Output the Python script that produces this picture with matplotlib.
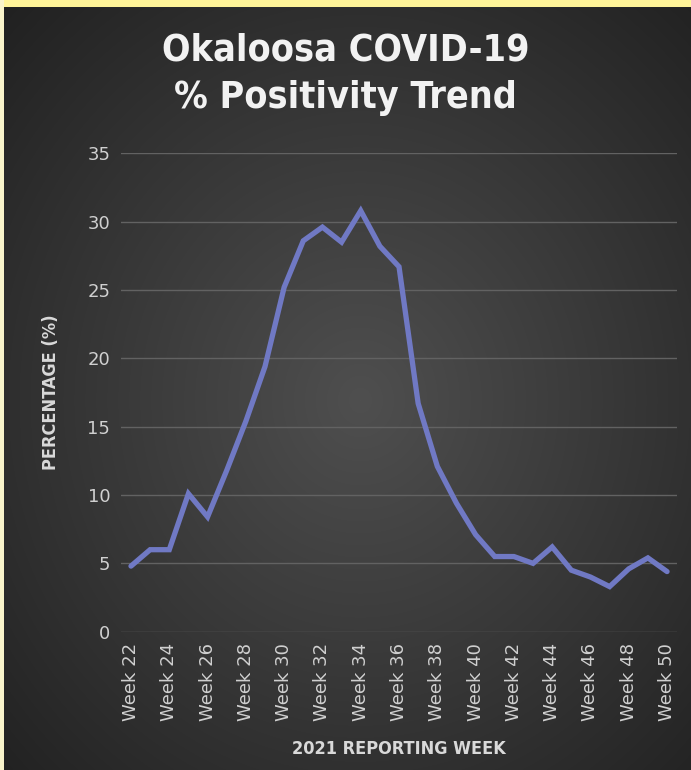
import numpy as np
import matplotlib
matplotlib.use("Agg")
import matplotlib.pyplot as plt

weeks = list(range(22, 51))
positivity = [4.8, 6.0, 6.0, 10.1, 8.4, 11.8, 15.4, 19.4, 25.2, 28.6, 29.6, 28.5,
              30.8, 28.2, 26.7, 16.7, 12.1, 9.4, 7.1, 5.5, 5.5, 5.0, 6.2, 4.5,
              4.0, 3.3, 4.6, 5.4, 4.4]
tick_weeks = list(range(22, 51, 2))
tick_labels = [f"Week {w}" for w in tick_weeks]

W, H = 691, 770
fig = plt.figure(figsize=(W / 100, H / 100), dpi=100)

# radial dark background with the yellow strip on top
bg = fig.add_axes([0, 0, 1, 1], zorder=-10)
yy, xx = np.mgrid[0:H, 0:W]
r = np.sqrt(((xx - 360) / 420) ** 2 + ((yy - 400) / 460) ** 2)
shade = 0.31 - 0.15 * np.clip(r, 0, 1.2)
img = np.dstack([shade, shade, shade])
img[:7, :, :] = [1.0, 0.96, 0.60]
img[:, :4, :] = [0.98, 0.96, 0.80]
bg.imshow(img, aspect="auto", extent=[0, 1, 0, 1])
bg.axis("off")

ax = fig.add_axes([0.1757, 0.1796, 0.8035, 0.6213])
ax.patch.set_alpha(0)
ax.plot(weeks, positivity, color="#7079c4", lw=3.8, solid_joinstyle="miter",
        solid_capstyle="round")
ax.set_xlim(21.5, 50.5)
ax.set_ylim(0, 35)
ax.set_yticks(range(0, 36, 5))
ax.set_xticks(tick_weeks)
ax.set_xticklabels(tick_labels, rotation=90)
ax.tick_params(colors="#d0d0d0", labelsize=13, length=0, pad=8)
ax.grid(axis="y", color="#626262", lw=1)
for s in ax.spines.values():
    s.set_visible(False)

ax.set_ylabel("PERCENTAGE (%)", color="#d9d9d9", fontsize=13, fontweight="bold",
              fontstretch="condensed", labelpad=20)
ax.set_xlabel("2021 REPORTING WEEK", color="#d9d9d9", fontsize=13,
              fontweight="bold", fontstretch="condensed", labelpad=14)

fig.text(0.5, 0.958, "Okaloosa COVID-19\n% Positivity Trend", ha="center", va="top",
         color="#f2f2f2", fontsize=27, fontweight="bold", fontstretch="condensed",
         linespacing=1.4)

fig.savefig("out.png", dpi=100)
